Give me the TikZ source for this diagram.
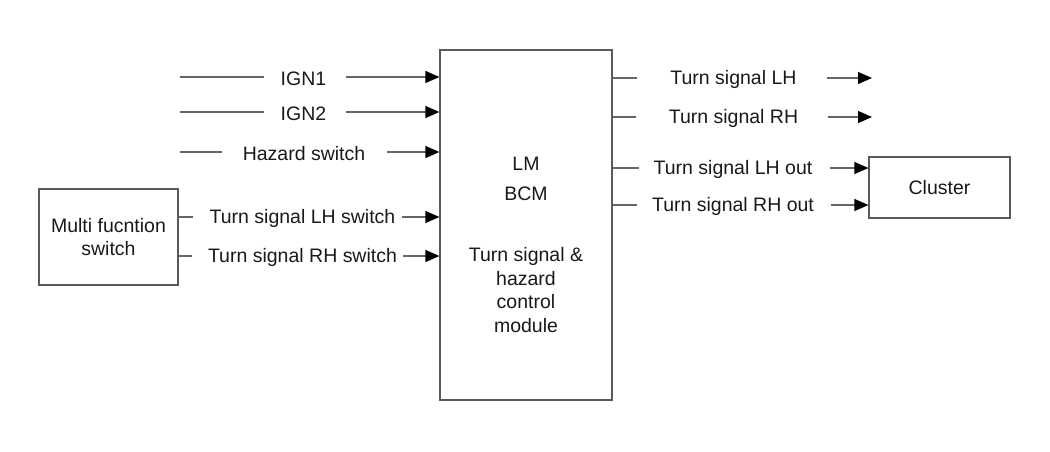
\documentclass[tikz,border=0pt]{standalone}
\usepackage{fontspec}
\setmainfont{Liberation Sans}
\usetikzlibrary{arrows.meta}
\begin{document}
\begin{tikzpicture}[x=1pt,y=-1pt,
  every node/.style={font=\fontsize{19.5}{23}\selectfont, text=black!90},
  lbl/.style={inner sep=0pt, anchor=center, yshift=-1.5pt},
  wire/.style={draw=black!60, line width=1.2pt},
  arr/.style={wire, -{Triangle[length=14pt,width=12pt]}, arrows={[color=black]}},
  box/.style={draw=black!65, line width=1.2pt, fill=white}]
\useasboundingbox (0,0) rectangle (1050,451);
% boxes
\node[box, minimum width=172pt, minimum height=350pt, inner sep=0pt] (bcm) at (526,225) {};
\node[box, minimum width=139pt, minimum height=96pt, inner sep=0pt, align=center] (mfs) at (108.5,237) {Multi fucntion\\[0pt]switch};
\node[box, minimum width=141pt, minimum height=61pt, inner sep=0pt] (cl) at (939.5,187.5) {Cluster};
% main text
\node[lbl] (lm) at (526,162) {LM};
\node[lbl] (bcmt) at (526,192) {BCM};
\node[lbl, align=center, anchor=north] (desc) at (526,246) {Turn signal \&\\[0.5pt]hazard\\[0.5pt]control\\[0.5pt]module};
% left inputs
\coordinate (s1) at (180,77);
\coordinate (s2) at (180,112);
\coordinate (s3) at (180,152);
\node[lbl] (ign1) at (303.5,77) {IGN1};
\node[lbl] (ign2) at (303.5,112) {IGN2};
\node[lbl] (haz) at (304,152) {Hazard switch};
\node[lbl] (tlh) at (302.5,217) {Turn signal LH switch};
\node[lbl] (trh) at (302.5,256) {Turn signal RH switch};
\draw[wire, shorten >=17pt] (s1) -- (ign1.west |- s1);
\draw[arr, shorten <=20pt] (ign1.east |- s1) -- (bcm.west |- s1);
\draw[wire, shorten >=17pt] (s2) -- (ign2.west |- s2);
\draw[arr, shorten <=20pt] (ign2.east |- s2) -- (bcm.west |- s2);
\draw[wire, shorten >=21pt] (s3) -- (haz.west |- s3);
\draw[arr, shorten <=22pt] (haz.east |- s3) -- (bcm.west |- s3);
\coordinate (t1) at (0,217);
\coordinate (t2) at (0,256);
\draw[wire, shorten >=16pt] (mfs.east |- t1) -- (tlh.west |- t1);
\draw[arr, shorten <=6pt] (tlh.east |- t1) -- (bcm.west |- t1);
\draw[wire, shorten >=16pt] (mfs.east |- t2) -- (trh.west |- t2);
\draw[arr, shorten <=6pt] (trh.east |- t2) -- (bcm.west |- t2);
% right outputs
\node[lbl] (olh) at (733.5,78) {Turn signal LH};
\node[lbl] (orh) at (733.5,117) {Turn signal RH};
\node[lbl] (olo) at (733,168) {Turn signal LH out};
\node[lbl] (oro) at (733,205) {Turn signal RH out};
\coordinate (e1) at (872,78);
\coordinate (e2) at (872,117);
\coordinate (e3) at (0,168);
\coordinate (e4) at (0,205);
\draw[wire, shorten >=33pt] (bcm.east |- e1) -- (olh.west |- e1);
\draw[arr, shorten <=30pt] (olh.east |- e1) -- (e1);
\draw[wire, shorten >=33pt] (bcm.east |- e2) -- (orh.west |- e2);
\draw[arr, shorten <=30pt] (orh.east |- e2) -- (e2);
\draw[wire, shorten >=15pt] (bcm.east |- e3) -- (olo.west |- e3);
\draw[arr, shorten <=17pt] (olo.east |- e3) -- (cl.west |- e3);
\draw[wire, shorten >=15pt] (bcm.east |- e4) -- (oro.west |- e4);
\draw[arr, shorten <=17pt] (oro.east |- e4) -- (cl.west |- e4);
\end{tikzpicture}
\end{document}
